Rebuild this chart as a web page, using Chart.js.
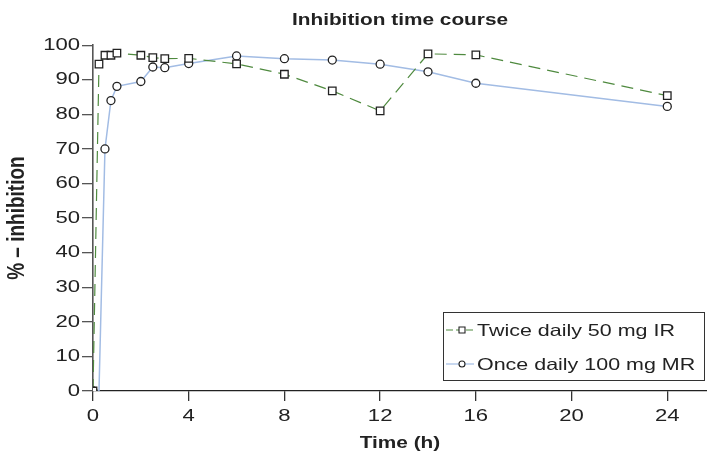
<!DOCTYPE html>
<html>
<head>
<meta charset="utf-8">
<script src="https://cdn.jsdelivr.net/npm/chart.js@4/dist/chart.umd.min.js"></script>
<style>
  html, body { margin: 0; padding: 0; background: #ffffff; }
  #wrap { width: 707px; height: 456px; position: relative; }
</style>
</head>
<body>
<div id="wrap"><canvas id="c" width="707" height="456"></canvas></div>
<script>
// ---- data ----
const chartTitle = "Inhibition time course";
const xTitle = "Time (h)";
const yTitle = "% – inhibition";
const seriesNames = ["Twice daily 50 mg IR", "Once daily 100 mg MR"];

const timesIR = [0, 0.25, 0.5, 0.75, 1, 2, 2.5, 3, 4, 6, 8, 10, 12, 14, 16, 24];
const valuesIR = [0, 94.5, 97.1, 97.1, 97.7, 97.1, 96.4, 96.1, 96.2, 94.6, 91.6, 86.8, 81.0, 97.5, 97.2, 85.4];

const timesMR = [0, 0.25, 0.5, 0.75, 1, 2, 2.5, 3, 4, 6, 8, 10, 12, 14, 16, 24];
const valuesMR = [0, 0, 70.0, 84.0, 88.1, 89.5, 93.7, 93.5, 94.7, 96.9, 96.1, 95.7, 94.5, 92.3, 89.0, 82.3];
const markerShownMR = [true, false, true, true, true, true, true, true, true, true, true, true, true, true, true, true];

const xTickValues = [0, 4, 8, 12, 16, 20, 24];
const yTickValues = [0, 10, 20, 30, 40, 50, 60, 70, 80, 90, 100];

// ---- styles ----
const GREEN = "#4f8a3f";
const BLUE = "#a2bce4";
const FONT = "'Liberation Sans', Arial, Helvetica, sans-serif";
const TEXT_STRETCH = 1.3; // the reference's lettering is horizontally wide

const canvas = document.getElementById("c");
const ctx2d = canvas.getContext("2d");
// widen all canvas text horizontally about its anchor point (text stays real text)
const origFillText = ctx2d.fillText.bind(ctx2d);
ctx2d.fillText = function (text, x, y, maxWidth) {
  const m = this.getTransform();
  const p = m.transformPoint(new DOMPoint(x, y));
  const s = new DOMMatrix().translate(p.x, p.y).scale(TEXT_STRETCH, 1).translate(-p.x, -p.y).multiply(m);
  this.setTransform(s);
  if (maxWidth !== undefined) origFillText(text, x, y, maxWidth); else origFillText(text, x, y);
  this.setTransform(m);
};

const legendPlugin = {
  id: "boxLegend",
  afterDraw(chart) {
    const ctx = chart.ctx;
    const a = chart.chartArea;
    const x0 = a.right - 264, x1 = a.right - 2;
    const y0 = a.bottom - 79, y1 = a.bottom - 10;
    ctx.save();
    ctx.fillStyle = "#ffffff";
    ctx.fillRect(x0, y0, x1 - x0, y1 - y0);
    ctx.strokeStyle = "#333333";
    ctx.lineWidth = 1;
    ctx.strokeRect(x0 + 0.5, y0 + 0.5, x1 - x0 - 1, y1 - y0 - 1);
    const rows = [y0 + 18, y0 + 52];
    const cols = [GREEN, BLUE];
    const dashes = [[7, 3], []];
    for (let i = 0; i < 2; i++) {
      const cy = rows[i];
      ctx.strokeStyle = cols[i];
      ctx.lineWidth = 1.2;
      ctx.setLineDash(dashes[i]);
      ctx.beginPath();
      ctx.moveTo(x0 + 3, cy);
      ctx.lineTo(x0 + 31, cy);
      ctx.stroke();
      ctx.setLineDash([]);
      ctx.fillStyle = "#ffffff";
      ctx.strokeStyle = "#222222";
      ctx.lineWidth = 1.1;
      const mx = x0 + 19;
      ctx.beginPath();
      if (i === 0) {
        ctx.rect(mx - 3, cy - 3, 6, 6);
      } else {
        ctx.arc(mx, cy, 3, 0, Math.PI * 2);
      }
      ctx.fill();
      ctx.stroke();
      ctx.fillStyle = "#222222";
      ctx.font = "16.5px " + FONT;
      ctx.textBaseline = "middle";
      ctx.textAlign = "left";
      ctx.fillText(seriesNames[i], x0 + 34, cy + 1);
    }
    ctx.restore();
  }
};

new Chart(canvas, {
  type: "line",
  data: {
    datasets: [
      {
        label: seriesNames[0],
        data: timesIR.map((t, i) => ({ x: t, y: valuesIR[i] })),
        borderColor: GREEN,
        borderWidth: 1.2,
        borderDash: [12, 7],
        pointStyle: "rect",
        pointRadius: 5.3,
        pointBorderColor: "#222222",
        pointBackgroundColor: "#ffffff",
        pointBorderWidth: 1.3,
        tension: 0,
        order: 1
      },
      {
        label: seriesNames[1],
        data: timesMR.map((t, i) => ({ x: t, y: valuesMR[i] })),
        borderColor: BLUE,
        borderWidth: 1.5,
        pointStyle: "circle",
        pointRadius: markerShownMR.map(s => s ? 4 : 0),
        pointBorderColor: "#222222",
        pointBackgroundColor: "#ffffff",
        pointBorderWidth: 1.3,
        tension: 0,
        order: 2
      }
    ]
  },
  options: {
    responsive: false,
    animation: false,
    layout: { padding: 0, autoPadding: false },
    plugins: {
      legend: { display: false },
      tooltip: { enabled: false },
      title: {
        display: true,
        fullSize: false,
        text: chartTitle,
        color: "#222222",
        font: { family: FONT, size: 16, weight: "bold" },
        padding: { top: 11, bottom: 15 }
      }
    },
    scales: {
      x: {
        type: "linear",
        min: 0,
        max: 25.66,
        afterFit: s => { s.height = 65; s.paddingRight = 0; s.paddingLeft = 0; },
        afterBuildTicks: s => { s.ticks = xTickValues.map(v => ({ value: v })); },
        border: { display: true, color: "#222222", width: 1.3 },
        grid: { display: true, drawOnChartArea: false, drawTicks: true, tickLength: 10, color: "#333333", lineWidth: 1.3 },
        ticks: { color: "#222222", font: { family: FONT, size: 17 }, padding: 5, maxRotation: 0 },
        title: {
          display: true,
          text: xTitle,
          color: "#222222",
          font: { family: FONT, size: 16, weight: "bold" },
          padding: { top: 0, bottom: 3 }
        }
      },
      y: {
        type: "linear",
        min: 0,
        max: 100,
        afterFit: s => { s.width = 93; },
        afterBuildTicks: s => { s.ticks = yTickValues.map(v => ({ value: v })); },
        border: { display: true, color: "#555555", width: 1.6 },
        grid: { display: true, drawOnChartArea: false, drawTicks: true, tickLength: 11, color: "#555555", lineWidth: 1.3 },
        ticks: { color: "#222222", font: { family: FONT, size: 17 }, padding: 2 },
        title: {
          display: true,
          text: yTitle,
          color: "#222222",
          font: { family: FONT, size: 19, weight: "bold" },
          padding: { top: 6, bottom: 0 }
        }
      }
    }
  },
  plugins: [legendPlugin]
});
</script>
</body>
</html>
